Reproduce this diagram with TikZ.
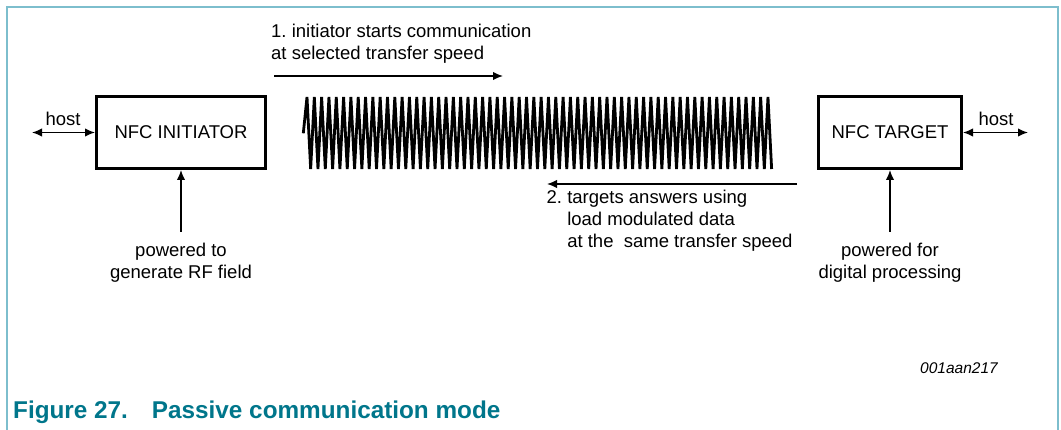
\documentclass[tikz,border=0pt]{standalone}
\usepackage{fontspec}
\setmainfont{Liberation Sans}
\usetikzlibrary{arrows.meta}
\definecolor{framecol}{RGB}{125,190,205}
\definecolor{capcol}{RGB}{0,118,139}
\frenchspacing

\begin{document}
\begin{tikzpicture}[x=1pt,y=-1pt,
    txt/.style={inner sep=0pt,font=\fontsize{18.5}{22}\selectfont},
    box/.style={txt,draw,line width=2.6pt},
    lbl/.style={txt,align=center,anchor=north,inner ysep=10.7pt},
    conn/.style={line width=1.5pt,-{Latex[length=10pt,width=8.5pt]}},
    both/.style={line width=1.5pt,{Latex[length=10pt,width=8.5pt]}-{Latex[length=10pt,width=8.5pt]}}]
  \useasboundingbox (0,0) rectangle (1061,430);
  \draw[framecol,line width=1.8pt] (7,431) -- (7,7) -- (1058,7) -- (1058,431);

  \node[box,minimum width=169.4pt,minimum height=72.4pt] (init) at (181,132.5) {NFC INITIATOR};
  \node[box,minimum width=143.4pt,minimum height=72.4pt] (targ) at (890,132.5) {NFC TARGET};

  \coordinate (hostL) at (32,132.5);
  \coordinate (hostR) at (1028,132.5);
  \draw[both] (hostL) -- (init.west);
  \draw[both] (targ.east) -- (hostR);
  \node[txt,anchor=base] (hostLlbl) at (63,126) {host};
  \node[txt,anchor=base] (hostRlbl) at (996,126) {host};

  \node[lbl] (pwrinit) at (181,232) {powered to\\generate RF field};
  \node[lbl] (pwrtarg) at (890,232) {powered for\\digital processing};
  \draw[conn] (pwrinit.north) -- (init.south);
  \draw[conn] (pwrtarg.north) -- (targ.south);

  \node[txt,align=left,anchor=north west] (msg1) at (271,24)
    {1. initiator starts communication\\at selected transfer speed};
  \coordinate (msg1s) at (274,76);
  \coordinate (msg1e) at (503,76);
  \draw[conn] (msg1s) -- (msg1e);

  \coordinate (msg2s) at (797,184);
  \coordinate (msg2e) at (547,184);
  \draw[conn] (msg2s) -- (msg2e);
  \node[txt,align=left,anchor=north west] (msg2) at (546.5,190)
    {2. targets answers using\\\hphantom{2. }load modulated data\\\hphantom{2. }at the\ \ same transfer speed};

  \draw[line width=2.8pt] (303.3,133.3)
    \foreach \k in {0,...,63} { -- ({307+7.317*\k},97) -- ({310.66+7.317*\k},169) };

  \node[inner sep=0pt,anchor=base,font=\fontsize{15.5}{18}\selectfont\itshape] (figid) at (959,374) {001aan217};
  \node[inner sep=0pt,anchor=base west,text=capcol,font=\fontsize{24.3}{28}\selectfont\bfseries] (caption) at (13,418)
    {Figure 27.\hspace{24pt}Passive communication mode};
\end{tikzpicture}
\end{document}
